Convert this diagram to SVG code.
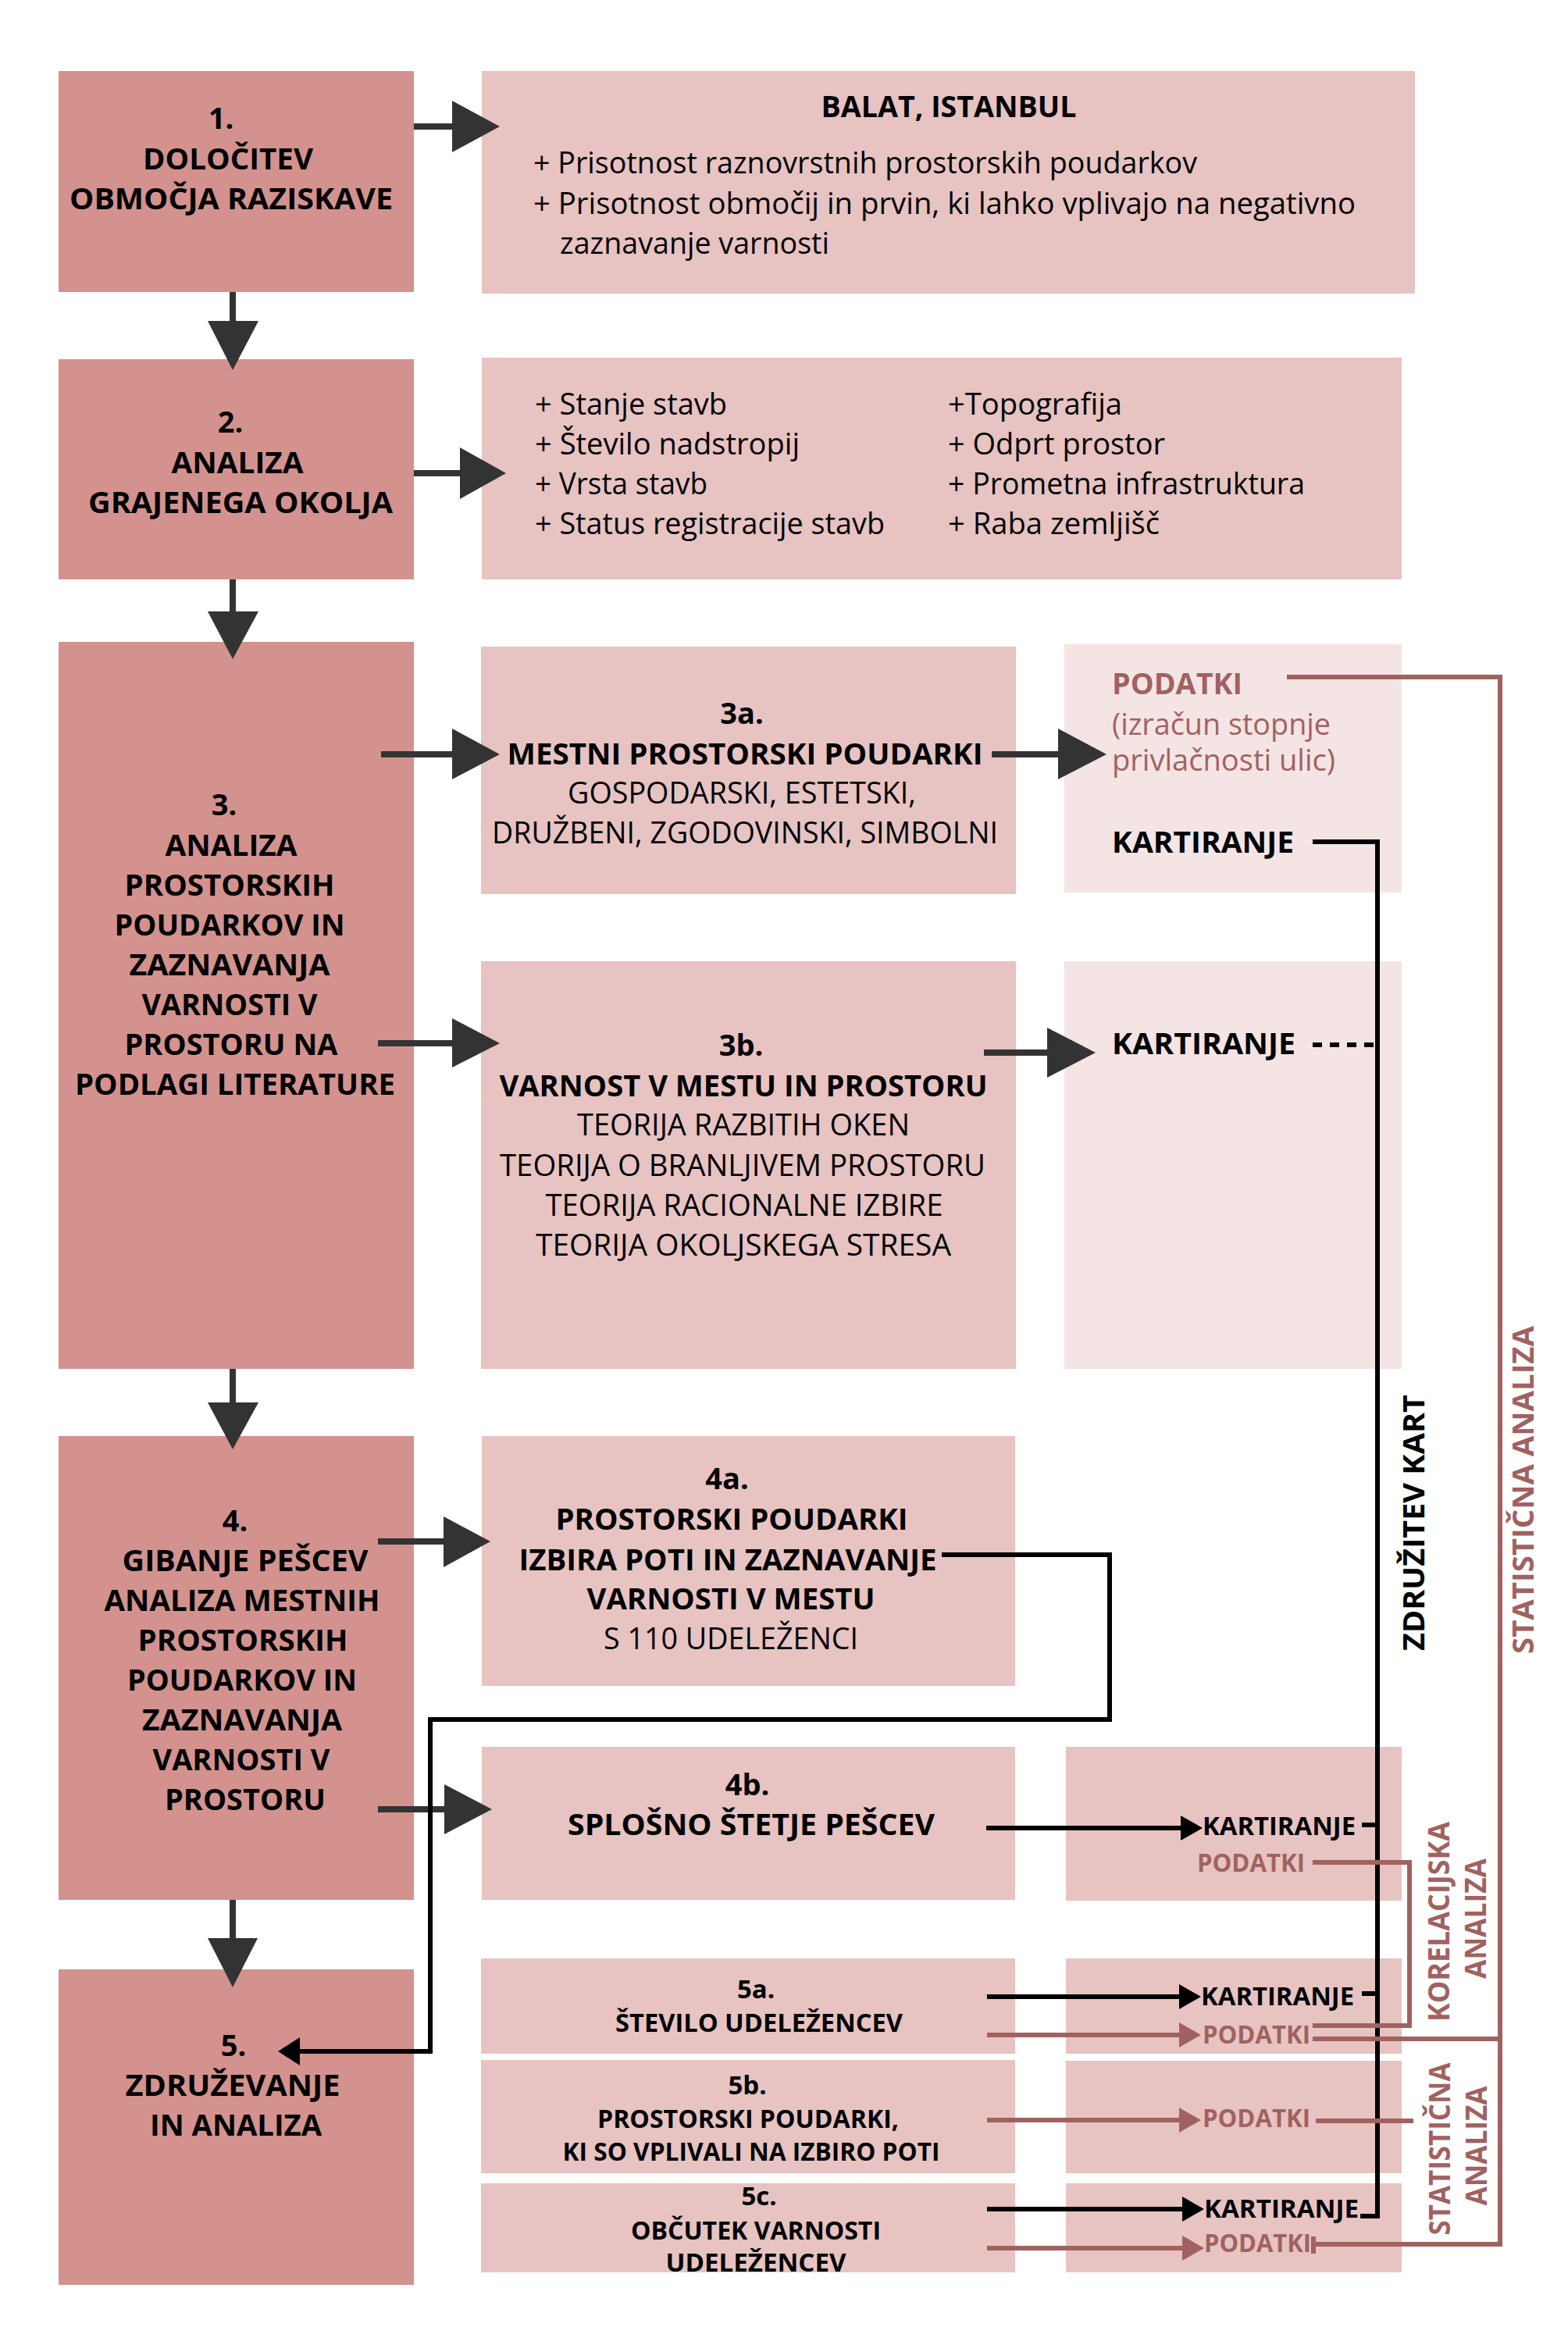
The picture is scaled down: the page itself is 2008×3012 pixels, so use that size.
<svg xmlns="http://www.w3.org/2000/svg" width="2008" height="3012" viewBox="0 0 2008 3012">
<style>
.dk{fill:#d3928e}.lt{fill:#e7c3c2}.xl{fill:#f5e4e4}
text{font-family:"Open Sans","Liberation Sans",sans-serif;font-size:38px;fill:#000}
.b{font-weight:700}.c{text-anchor:middle}.m{fill:#a06260}.s{font-size:33px}
.ah{fill:#333}.sh{stroke:#333;stroke-width:8;fill:none}
.k{stroke:#000;stroke-width:6;fill:none}.kh{fill:#000}
.mv{stroke:#a06260;stroke-width:6;fill:none}.mh{fill:#a06260}
</style>
<rect width="2008" height="3012" fill="#fff"/>
<g id="n1">
<rect class="dk" x="75" y="91" width="455" height="283"/>
<text class="b c" x="283" y="165">1.</text>
<text class="b c" x="292" y="217" textLength="218" lengthAdjust="spacingAndGlyphs">DOLOČITEV</text>
<text class="b c" x="296" y="268" textLength="414" lengthAdjust="spacingAndGlyphs">OBMOČJA RAZISKAVE</text>
</g>
<g id="n1r">
<rect class="lt" x="617" y="91" width="1195" height="285"/>
<text class="b c" x="1215" y="150" textLength="327" lengthAdjust="spacingAndGlyphs">BALAT, ISTANBUL</text>
<text x="683" y="222" textLength="850" lengthAdjust="spacingAndGlyphs">+ Prisotnost raznovrstnih prostorskih poudarkov</text>
<text x="683" y="274" textLength="1053" lengthAdjust="spacingAndGlyphs">+ Prisotnost območij in prvin, ki lahko vplivajo na negativno</text>
<text x="717" y="325" textLength="345" lengthAdjust="spacingAndGlyphs">zaznavanje varnosti</text>
</g>
<g id="n2">
<rect class="dk" x="75" y="460" width="455" height="282"/>
<text class="b c" x="295" y="554">2.</text>
<text class="b c" x="304" y="606" textLength="169" lengthAdjust="spacingAndGlyphs">ANALIZA</text>
<text class="b c" x="308" y="657" textLength="390" lengthAdjust="spacingAndGlyphs">GRAJENEGA OKOLJA</text>
</g>
<g id="n2r">
<rect class="lt" x="617" y="458" width="1178" height="284"/>
<text x="685" y="531" textLength="246" lengthAdjust="spacingAndGlyphs">+ Stanje stavb</text>
<text x="685" y="582" textLength="339" lengthAdjust="spacingAndGlyphs">+ Število nadstropij</text>
<text x="685" y="633" textLength="221" lengthAdjust="spacingAndGlyphs">+ Vrsta stavb</text>
<text x="685" y="684" textLength="448" lengthAdjust="spacingAndGlyphs">+ Status registracije stavb</text>
<text x="1214" y="531" textLength="223" lengthAdjust="spacingAndGlyphs">+Topografija</text>
<text x="1214" y="582" textLength="278" lengthAdjust="spacingAndGlyphs">+ Odprt prostor</text>
<text x="1214" y="633" textLength="457" lengthAdjust="spacingAndGlyphs">+ Prometna infrastruktura</text>
<text x="1214" y="684" textLength="271" lengthAdjust="spacingAndGlyphs">+ Raba zemljišč</text>
</g>
<g id="n3">
<rect class="dk" x="75" y="822" width="455" height="931"/>
<text class="b c" x="287" y="1044">3.</text>
<text class="b c" x="296" y="1096" textLength="169" lengthAdjust="spacingAndGlyphs">ANALIZA</text>
<text class="b c" x="294" y="1147" textLength="269" lengthAdjust="spacingAndGlyphs">PROSTORSKIH</text>
<text class="b c" x="294" y="1198" textLength="295" lengthAdjust="spacingAndGlyphs">POUDARKOV IN</text>
<text class="b c" x="294" y="1249" textLength="257" lengthAdjust="spacingAndGlyphs">ZAZNAVANJA</text>
<text class="b c" x="294" y="1300" textLength="225" lengthAdjust="spacingAndGlyphs">VARNOSTI V</text>
<text class="b c" x="296" y="1351" textLength="273" lengthAdjust="spacingAndGlyphs">PROSTORU NA</text>
<text class="b c" x="301" y="1402" textLength="410" lengthAdjust="spacingAndGlyphs">PODLAGI LITERATURE</text>
</g>
<g id="n3a">
<rect class="lt" x="616" y="828" width="685" height="317"/>
<text class="b c" x="950" y="927">3a.</text>
<text class="b c" x="954" y="979" textLength="609" lengthAdjust="spacingAndGlyphs">MESTNI PROSTORSKI POUDARKI</text>
<text class="c" x="950" y="1029" textLength="446" lengthAdjust="spacingAndGlyphs">GOSPODARSKI, ESTETSKI,</text>
<text class="c" x="954" y="1080" textLength="648" lengthAdjust="spacingAndGlyphs">DRUŽBENI, ZGODOVINSKI, SIMBOLNI</text>
</g>
<g id="n3a-out">
<rect class="xl" x="1363" y="825" width="432" height="318"/>
<text class="b m" x="1424" y="889" textLength="167" lengthAdjust="spacingAndGlyphs">PODATKI</text>
<text class="m" x="1424" y="941" textLength="280" lengthAdjust="spacingAndGlyphs">(izračun stopnje</text>
<text class="m" x="1424" y="987" textLength="286" lengthAdjust="spacingAndGlyphs">privlačnosti ulic)</text>
<text class="b" x="1424" y="1092" textLength="233" lengthAdjust="spacingAndGlyphs">KARTIRANJE</text>
</g>
<g id="n3b">
<rect class="lt" x="616" y="1231" width="685" height="522"/>
<text class="b c" x="949" y="1352">3b.</text>
<text class="b c" x="952" y="1404" textLength="625" lengthAdjust="spacingAndGlyphs">VARNOST V MESTU IN PROSTORU</text>
<text class="c" x="952" y="1454" textLength="426" lengthAdjust="spacingAndGlyphs">TEORIJA RAZBITIH OKEN</text>
<text class="c" x="951" y="1506" textLength="622" lengthAdjust="spacingAndGlyphs">TEORIJA O BRANLJIVEM PROSTORU</text>
<text class="c" x="953" y="1557" textLength="509" lengthAdjust="spacingAndGlyphs">TEORIJA RACIONALNE IZBIRE</text>
<text class="c" x="952" y="1608" textLength="532" lengthAdjust="spacingAndGlyphs">TEORIJA OKOLJSKEGA STRESA</text>
</g>
<g id="n3b-out">
<rect class="xl" x="1363" y="1231" width="432" height="522"/>
<text class="b" x="1424" y="1350" textLength="235" lengthAdjust="spacingAndGlyphs">KARTIRANJE</text>
</g>
<g id="n4">
<rect class="dk" x="75" y="1839" width="455" height="594"/>
<text class="b c" x="301" y="1961">4.</text>
<text class="b c" x="314" y="2012" textLength="315" lengthAdjust="spacingAndGlyphs">GIBANJE PEŠCEV</text>
<text class="b c" x="310" y="2063" textLength="353" lengthAdjust="spacingAndGlyphs">ANALIZA MESTNIH</text>
<text class="b c" x="311" y="2114" textLength="269" lengthAdjust="spacingAndGlyphs">PROSTORSKIH</text>
<text class="b c" x="310" y="2165" textLength="294" lengthAdjust="spacingAndGlyphs">POUDARKOV IN</text>
<text class="b c" x="310" y="2216" textLength="256" lengthAdjust="spacingAndGlyphs">ZAZNAVANJA</text>
<text class="b c" x="309" y="2267" textLength="227" lengthAdjust="spacingAndGlyphs">VARNOSTI V</text>
<text class="b c" x="314" y="2318" textLength="206" lengthAdjust="spacingAndGlyphs">PROSTORU</text>
</g>
<g id="n4a">
<rect class="lt" x="617" y="1839" width="683" height="320"/>
<text class="b c" x="931" y="1907">4a.</text>
<text class="b c" x="937" y="1959" textLength="451" lengthAdjust="spacingAndGlyphs">PROSTORSKI POUDARKI</text>
<text class="b c" x="932" y="2011" textLength="535" lengthAdjust="spacingAndGlyphs">IZBIRA POTI IN ZAZNAVANJE</text>
<text class="b c" x="936" y="2061" textLength="369" lengthAdjust="spacingAndGlyphs">VARNOSTI V MESTU</text>
<text class="c" x="936" y="2112" textLength="326" lengthAdjust="spacingAndGlyphs">S 110 UDELEŽENCI</text>
</g>
<g id="n4b">
<rect class="lt" x="617" y="2237" width="683" height="196"/>
<text class="b c" x="957" y="2299">4b.</text>
<text class="b c" x="962" y="2350" textLength="470" lengthAdjust="spacingAndGlyphs">SPLOŠNO ŠTETJE PEŠCEV</text>
</g>
<g id="n4b-out">
<rect class="lt" x="1365" y="2237" width="430" height="197"/>
<text class="b s" x="1540" y="2350" textLength="196" lengthAdjust="spacingAndGlyphs">KARTIRANJE</text>
<text class="b s m" x="1533" y="2397" textLength="138" lengthAdjust="spacingAndGlyphs">PODATKI</text>
</g>
<g id="n5">
<rect class="dk" x="75" y="2522" width="455" height="404"/>
<text class="b c" x="299" y="2633">5.</text>
<text class="b c" x="298" y="2684" textLength="275" lengthAdjust="spacingAndGlyphs">ZDRUŽEVANJE</text>
<text class="b c" x="302" y="2735" textLength="220" lengthAdjust="spacingAndGlyphs">IN ANALIZA</text>
</g>
<g id="n5a">
<rect class="lt" x="616" y="2508" width="684" height="122"/>
<text class="b c s" x="968" y="2559">5a.</text>
<text class="b c s" x="972" y="2602" textLength="368" lengthAdjust="spacingAndGlyphs">ŠTEVILO UDELEŽENCEV</text>
</g>
<g id="n5a-out">
<rect class="lt" x="1365" y="2508" width="430" height="122"/>
<text class="b s" x="1538" y="2568" textLength="196" lengthAdjust="spacingAndGlyphs">KARTIRANJE</text>
<text class="b s m" x="1540" y="2617" textLength="138" lengthAdjust="spacingAndGlyphs">PODATKI</text>
</g>
<g id="n5b">
<rect class="lt" x="616" y="2638" width="684" height="145"/>
<text class="b c s" x="957" y="2682">5b.</text>
<text class="b c s" x="958" y="2725" textLength="386" lengthAdjust="spacingAndGlyphs">PROSTORSKI POUDARKI,</text>
<text class="b c s" x="962" y="2767" textLength="483" lengthAdjust="spacingAndGlyphs">KI SO VPLIVALI NA IZBIRO POTI</text>
</g>
<g id="n5b-out">
<rect class="lt" x="1365" y="2639" width="430" height="144"/>
<text class="b s m" x="1540" y="2724" textLength="138" lengthAdjust="spacingAndGlyphs">PODATKI</text>
</g>
<g id="n5c">
<rect class="lt" x="616" y="2796" width="684" height="114"/>
<text class="b c s" x="972" y="2824">5c.</text>
<text class="b c s" x="968" y="2868" textLength="320" lengthAdjust="spacingAndGlyphs">OBČUTEK VARNOSTI</text>
<text class="b c s" x="968" y="2909" textLength="231" lengthAdjust="spacingAndGlyphs">UDELEŽENCEV</text>
</g>
<g id="n5c-out">
<rect class="lt" x="1365" y="2796" width="430" height="114"/>
<text class="b s" x="1542" y="2840" textLength="198" lengthAdjust="spacingAndGlyphs">KARTIRANJE</text>
<text class="b s m" x="1542" y="2884" textLength="137" lengthAdjust="spacingAndGlyphs">PODATKI</text>
</g>
<g id="labels">
<text class="b c" font-size="40" transform="translate(1824,1950) rotate(-90)" textLength="328" lengthAdjust="spacingAndGlyphs">ZDRUŽITEV KART</text>
<text class="b c m" font-size="39" transform="translate(1964,1908) rotate(-90)" textLength="420" lengthAdjust="spacingAndGlyphs">STATISTIČNA ANALIZA</text>
<text class="b c m" font-size="36" transform="translate(1856,2461) rotate(-90)" textLength="256" lengthAdjust="spacingAndGlyphs">KORELACIJSKA</text>
<text class="b c m" font-size="36" transform="translate(1903,2457) rotate(-90)" textLength="154" lengthAdjust="spacingAndGlyphs">ANALIZA</text>
<text class="b c m" font-size="36" transform="translate(1857,2752) rotate(-90)" textLength="221" lengthAdjust="spacingAndGlyphs">STATISTIČNA</text>
<text class="b c m" font-size="36" transform="translate(1904,2748) rotate(-90)" textLength="153" lengthAdjust="spacingAndGlyphs">ANALIZA</text>
</g>
<g id="connectors">
<line class="sh" x1="530" y1="162" x2="581" y2="162"/><polygon class="ah" points="579,129 640,162 579,195"/>
<line class="sh" x1="298" y1="374" x2="298" y2="413"/><polygon class="ah" points="266,411 331,411 298,474"/>
<line class="sh" x1="530" y1="606" x2="591" y2="606"/><polygon class="ah" points="589,573 648,606 589,639"/>
<line class="sh" x1="298" y1="742" x2="298" y2="785"/><polygon class="ah" points="266,783 331,783 298,844"/>
<line class="sh" x1="488" y1="966" x2="581" y2="966"/><polygon class="ah" points="579,933 640,966 579,998"/>
<line class="sh" x1="1270" y1="966" x2="1357" y2="966"/><polygon class="ah" points="1355,933 1417,966 1355,998"/>
<line class="sh" x1="484" y1="1336" x2="581" y2="1336"/><polygon class="ah" points="579,1304 640,1336 579,1367"/>
<line class="sh" x1="1260" y1="1348" x2="1343" y2="1348"/><polygon class="ah" points="1341,1316 1403,1348 1341,1380"/>
<line class="sh" x1="298" y1="1753" x2="298" y2="1798"/><polygon class="ah" points="266,1796 331,1796 298,1856"/>
<line class="sh" x1="484" y1="1974" x2="570" y2="1974"/><polygon class="ah" points="568,1942 628,1974 568,2007"/>
<line class="sh" x1="484" y1="2317" x2="571" y2="2317"/><polygon class="ah" points="569,2285 630,2317 569,2349"/>
<line class="sh" x1="298" y1="2433" x2="298" y2="2484"/><polygon class="ah" points="266,2482 330,2482 298,2545"/>
<polyline class="k" points="1206,1991 1421,1991 1421,2202 551,2202 551,2627 382,2627"/>
<polygon class="kh" points="384,2609 384,2645 356,2627"/>
<polyline class="k" points="1681,1078 1764,1078 1764,2838 1742,2838"/>
<line class="k" x1="1681" y1="1338" x2="1764" y2="1338" stroke-dasharray="12 10"/>
<line class="k" x1="1744" y1="2337" x2="1764" y2="2337"/>
<line class="k" x1="1744" y1="2553" x2="1764" y2="2553"/>
<line class="k" x1="1263" y1="2341" x2="1514" y2="2341"/><polygon class="kh" points="1512,2325 1512,2357 1540,2341"/>
<line class="k" x1="1264" y1="2557" x2="1512" y2="2557"/><polygon class="kh" points="1510,2541 1510,2573 1538,2557"/>
<line class="k" x1="1264" y1="2829" x2="1516" y2="2829"/><polygon class="kh" points="1514,2813 1514,2845 1542,2829"/>
<polyline class="mv" points="1648,867 1921,867 1921,2877"/>
<polyline class="mv" points="1681,2385 1805,2385 1805,2594 1681,2594"/>
<line class="mv" x1="1264" y1="2606" x2="1512" y2="2606"/><polygon class="mh" points="1510,2590 1510,2622 1538,2606"/>
<line class="mv" x1="1681" y1="2611" x2="1921" y2="2611"/>
<line class="mv" x1="1264" y1="2715" x2="1512" y2="2715"/><polygon class="mh" points="1510,2699 1510,2731 1538,2715"/>
<line class="mv" x1="1685" y1="2716" x2="1810" y2="2716"/>
<line class="mv" x1="1264" y1="2879" x2="1516" y2="2879"/><polygon class="mh" points="1514,2863 1514,2895 1542,2879"/>
<line class="mv" x1="1679" y1="2874" x2="1924" y2="2874"/>
<line class="mv" x1="1682" y1="2864" x2="1682" y2="2886"/>
</g>
</svg>
